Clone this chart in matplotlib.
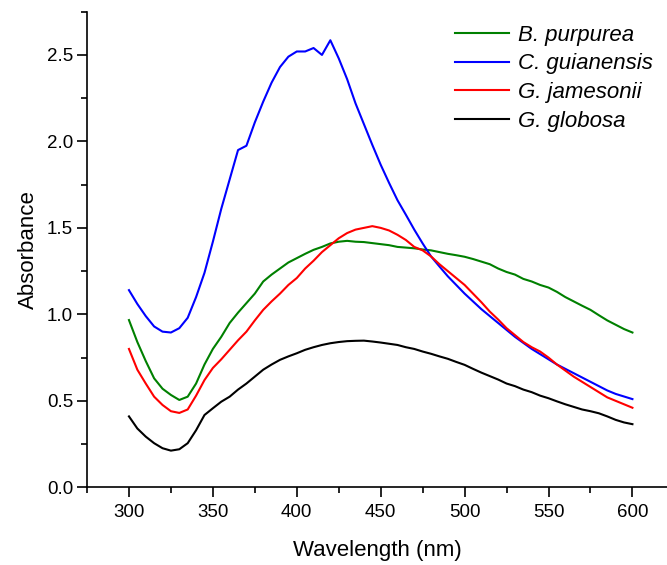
import matplotlib
matplotlib.use("Agg")
import matplotlib.pyplot as plt
from matplotlib.ticker import MultipleLocator

plt.rcParams['font.family'] = ['Liberation Sans', 'DejaVu Sans']

wavelength = list(range(300, 601, 5))

b_purpurea = [0.967, 0.84, 0.73, 0.63, 0.57, 0.534, 0.505, 0.524, 0.60, 0.71,
              0.80, 0.87, 0.95, 1.01, 1.065, 1.12, 1.19, 1.23, 1.265, 1.30,
              1.325, 1.35, 1.373, 1.39, 1.41, 1.42, 1.425, 1.42, 1.418, 1.412,
              1.406, 1.40, 1.39, 1.386, 1.382, 1.375, 1.37, 1.36, 1.35, 1.342,
              1.333, 1.32, 1.305, 1.29, 1.265, 1.245, 1.23, 1.205, 1.19, 1.17,
              1.155, 1.13, 1.10, 1.075, 1.05, 1.026, 0.995, 0.965, 0.94, 0.915,
              0.895]

c_guianensis = [1.14, 1.06, 0.99, 0.93, 0.90, 0.895, 0.92, 0.98, 1.10, 1.24,
                1.42, 1.61, 1.78, 1.95, 1.975, 2.11, 2.23, 2.34, 2.43, 2.49,
                2.52, 2.52, 2.54, 2.50, 2.585, 2.48, 2.36, 2.22, 2.10, 1.98,
                1.865, 1.76, 1.66, 1.576, 1.49, 1.41, 1.335, 1.277, 1.22, 1.17,
                1.12, 1.075, 1.03, 0.99, 0.95, 0.91, 0.87, 0.835, 0.80, 0.77,
                0.74, 0.71, 0.685, 0.66, 0.635, 0.61, 0.585, 0.56, 0.54, 0.525,
                0.51]

g_jamesonii = [0.80, 0.68, 0.60, 0.524, 0.476, 0.44, 0.43, 0.45, 0.53, 0.62,
               0.69, 0.74, 0.795, 0.85, 0.90, 0.965, 1.026, 1.075, 1.12, 1.17,
               1.21, 1.265, 1.31, 1.36, 1.40, 1.44, 1.47, 1.49, 1.50, 1.51,
               1.50, 1.485, 1.46, 1.43, 1.39, 1.37, 1.335, 1.29, 1.25, 1.21,
               1.17, 1.12, 1.07, 1.016, 0.97, 0.92, 0.88, 0.84, 0.81, 0.785,
               0.75, 0.71, 0.675, 0.64, 0.61, 0.58, 0.55, 0.52, 0.50, 0.48,
               0.46]

g_globosa = [0.41, 0.34, 0.293, 0.255, 0.226, 0.212, 0.22, 0.255, 0.33, 0.418,
             0.457, 0.495, 0.524, 0.565, 0.60, 0.64, 0.68, 0.71, 0.737, 0.757,
             0.775, 0.795, 0.81, 0.823, 0.833, 0.84, 0.845, 0.847, 0.848, 0.843,
             0.837, 0.83, 0.823, 0.81, 0.80, 0.785, 0.772, 0.757, 0.743, 0.725,
             0.708, 0.685, 0.663, 0.643, 0.623, 0.60, 0.585, 0.565, 0.55, 0.53,
             0.515, 0.497, 0.48, 0.465, 0.45, 0.44, 0.428, 0.41, 0.39, 0.375,
             0.365]

fig = plt.figure(figsize=(6.67, 5.65), dpi=100)
ax = fig.add_axes([87/667, 77.7/565, 580/667, 475.6/565])

ax.plot(wavelength, b_purpurea, color="#008000", lw=1.5, label="B. purpurea")
ax.plot(wavelength, c_guianensis, color="#0000ff", lw=1.5, label="C. guianensis")
ax.plot(wavelength, g_jamesonii, color="#ff0000", lw=1.5, label="G. jamesonii")
ax.plot(wavelength, g_globosa, color="black", lw=1.5, label="G. globosa")

ax.set_xlim(275, 620.6)
ax.set_ylim(0, 2.75)
ax.xaxis.set_major_locator(MultipleLocator(50))
ax.xaxis.set_minor_locator(MultipleLocator(25))
ax.yaxis.set_major_locator(MultipleLocator(0.5))
ax.yaxis.set_minor_locator(MultipleLocator(0.25))
ax.yaxis.set_major_formatter(matplotlib.ticker.FormatStrFormatter("%.1f"))
ax.set_xticks(range(300, 601, 50))

for side in ("top", "right"):
    ax.spines[side].set_visible(False)
for side in ("left", "bottom"):
    ax.spines[side].set_linewidth(1.2)
ax.tick_params(which="major", direction="out", length=7, width=1.2, labelsize=13.5)
ax.tick_params(axis="x", which="major", pad=5)
ax.tick_params(axis="y", which="major", pad=3)
ax.tick_params(which="minor", direction="out", length=4, width=1.2)

ax.set_xlabel("Wavelength (nm)", fontsize=16, labelpad=14)
ax.set_ylabel("Absorbance", fontsize=16, labelpad=6)

leg = ax.legend(loc="upper left", bbox_to_anchor=(448/667, 1 - 18/565),
                bbox_transform=fig.transFigure, frameon=False,
                prop={"style": "italic", "size": 16}, handlelength=2.45,
                handletextpad=0.4, labelspacing=0.35, borderaxespad=0, borderpad=0.3)

fig.savefig("out.png", dpi=100)
